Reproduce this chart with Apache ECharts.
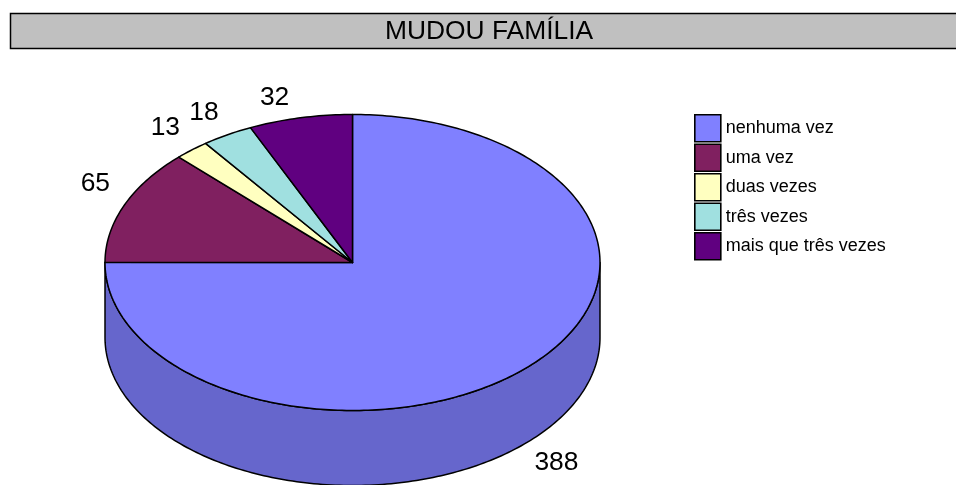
<!DOCTYPE html>
<html>
<head>
<meta charset="utf-8">
<style>html,body{margin:0;padding:0;background:#fff}#c{width:956px;height:485px}</style>
<script src="https://cdn.jsdelivr.net/npm/echarts@6/dist/echarts.min.js"></script>
</head>
<body>
<div id="c"></div>
<script>
var chartTitle = 'MUDOU FAMÍLIA';
var categories = ['nenhuma vez', 'uma vez', 'duas vezes', 'três vezes', 'mais que três vezes'];
var values = [388, 65, 13, 18, 32];
var topColors = ['#8080ff', '#802060', '#ffffc0', '#a0e0e0', '#600080'];
var sideColors = ['#6666cc', '#661a4d', '#cccc9a', '#80b3b3', '#4d0066'];

var FONT = '"Liberation Sans", Arial, sans-serif';
var CX = 352.5, CY = 262.5, RX = 247.5, RY = 148, DEPTH = 75;
var LABEL_DX = 30, LABEL_DY = 20;
var total = values.reduce(function (a, b) { return a + b; }, 0);

// small projection correction of the original 3D renderer
function warp(deg) {
  var r = deg * Math.PI / 180;
  return deg + 0.7 * Math.sin(r) + 1.75 * Math.sin(4 * r);
}
function pt(deg, dy) {
  var r = deg * Math.PI / 180;
  return [CX + RX * Math.sin(r), CY - RY * Math.cos(r) + (dy || 0)];
}
function arc(from, to, dy) {
  var pts = [], n = Math.max(2, Math.ceil(Math.abs(to - from)));
  for (var i = 0; i <= n; i++) pts.push(pt(from + (to - from) * i / n, dy));
  return pts;
}
function startOf(idx) {
  var s = 0;
  for (var i = 0; i < idx; i++) s += values[i];
  return s / total * 360;
}
var strokeStyle = { stroke: '#000', lineWidth: 1.5, lineJoin: 'round' };

function renderSlice(params, api) {
  var idx = params.seriesIndex;
  var value = api.value(0);
  var raw0 = startOf(idx), raw1 = raw0 + value / total * 360;
  var a0 = warp(raw0), a1 = warp(raw1);
  var children = [];
  // side wall: only the part of the slice on the front half (90..270 deg)
  var w0 = Math.max(a0, 90), w1 = Math.min(a1, 270);
  if (w1 > w0) {
    children.push({
      type: 'polygon',
      shape: { points: arc(w0, w1, 0).concat(arc(w1, w0, DEPTH)) },
      style: Object.assign({ fill: sideColors[idx] }, strokeStyle)
    });
  }
  // top face
  children.push({
    type: 'polygon',
    shape: { points: [[CX, CY]].concat(arc(a0, a1, 0)) },
    style: Object.assign({ fill: topColors[idx] }, strokeStyle)
  });
  // value label, offset outward from the slice's mid-angle
  var mid = (raw0 + raw1) / 2, anchor = pt(mid, 0);
  var front = mid > 90 && mid < 270;
  var lx = anchor[0] + (Math.sin(mid * Math.PI / 180) >= 0 ? LABEL_DX : -LABEL_DX);
  var ly = anchor[1] + (front ? DEPTH + LABEL_DY : -LABEL_DY);
  children.push({
    type: 'text',
    style: {
      x: lx, y: ly, text: String(value), fill: '#000',
      font: '26.4px ' + FONT, align: 'center', verticalAlign: 'middle'
    }
  });
  return { type: 'group', children: children };
}

var chart = echarts.init(document.getElementById('c'), null, { renderer: 'canvas' });
chart.setOption({
  animation: false,
  backgroundColor: '#fff',
  graphic: [{
    type: 'rect', z: 0, silent: true,
    shape: { x: 10.5, y: 13.5, width: 960, height: 35 },
    style: { fill: '#c0c0c0', stroke: '#000', lineWidth: 1.5 }
  }],
  title: {
    text: chartTitle, left: 489, top: 17, textAlign: 'center', padding: 0, z: 5,
    textStyle: { fontFamily: FONT, fontSize: 26.4, fontWeight: 'normal', color: '#000', lineHeight: 30 }
  },
  legend: {
    orient: 'vertical', left: 694, top: 114, padding: 0,
    data: categories, icon: 'rect',
    itemWidth: 26, itemHeight: 27, itemGap: 0.9, itemStyle: { borderColor: '#000', borderWidth: 1.6 },
    selectedMode: false,
    textStyle: { fontFamily: FONT, fontSize: 18, color: '#000', lineHeight: 18 }
  },
  series: categories.map(function (name, i) {
    return {
      type: 'custom', name: name, coordinateSystem: 'none', silent: true,
      itemStyle: { color: topColors[i] },
      renderItem: renderSlice,
      data: [[values[i]]]
    };
  })
});
</script>
</body>
</html>
